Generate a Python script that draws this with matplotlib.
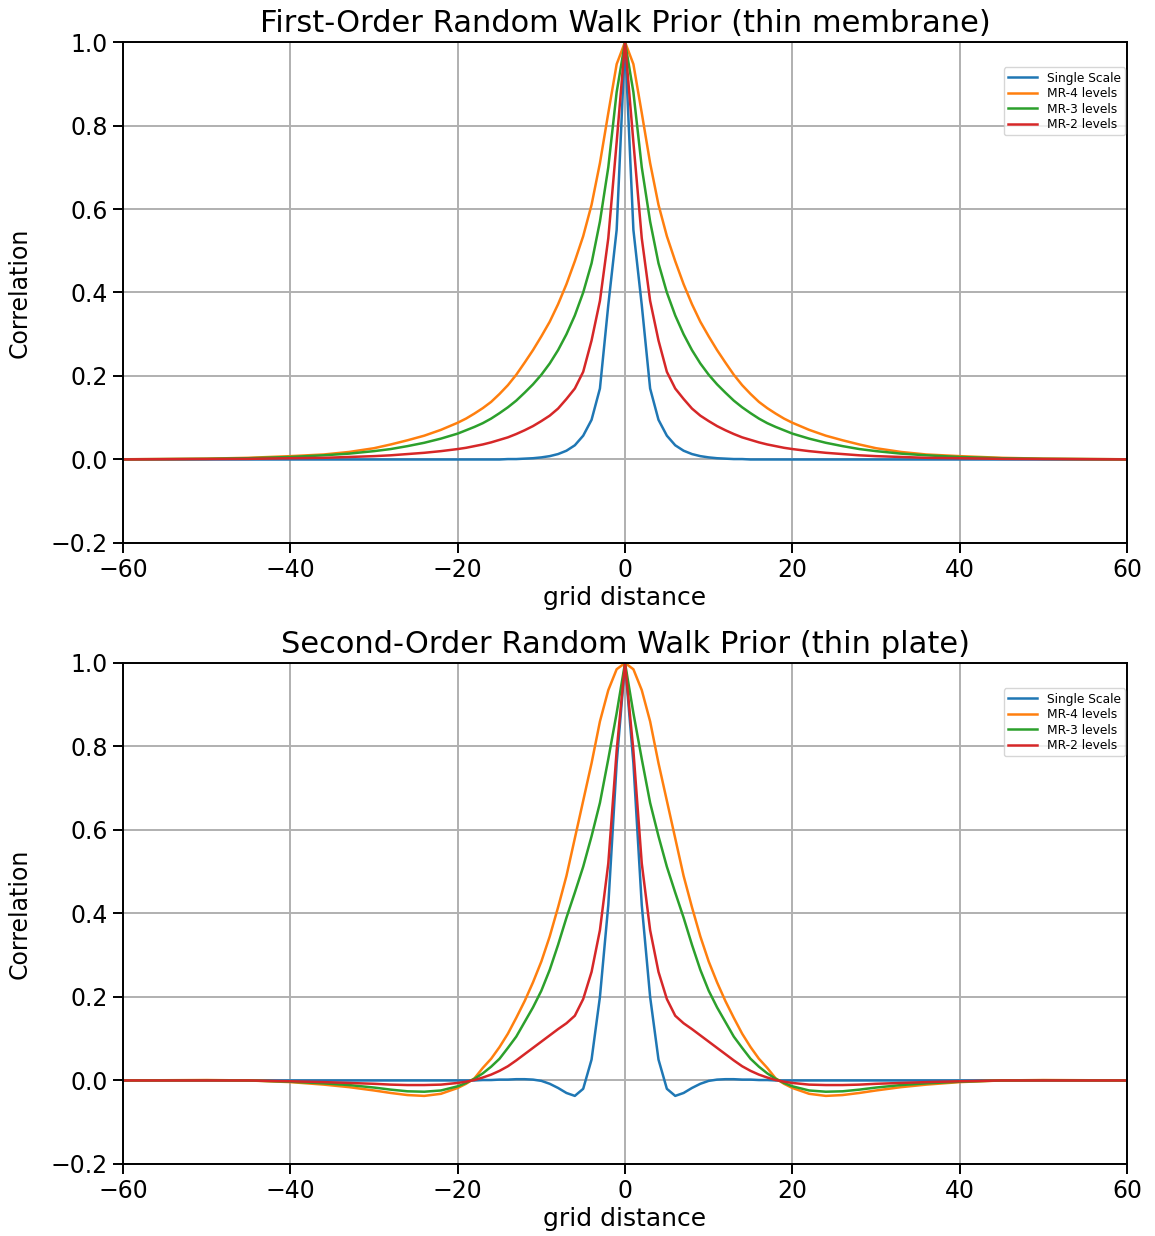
import numpy as np
import matplotlib
matplotlib.use('Agg')
import matplotlib.pyplot as plt

# ---- 读图得到的相关系数（右半边，左右对称） ----
dist = [0, 1, 2, 3, 4, 5, 6, 7, 8, 9, 10, 11, 12, 13, 14, 15, 16, 17, 18, 19, 20,
        22, 24, 26, 28, 30, 33, 36, 40, 45, 50, 60]

# 一阶随机游走
rw1_single = [1.0, 0.55, 0.37, 0.17, 0.095, 0.057, 0.034, 0.021, 0.013, 0.008, 0.005, 0.003,
              0.002, 0.001, 0.001, 0.0, 0.0, 0.0, 0.0, 0.0, 0.0,
              0.0, 0.0, 0.0, 0.0, 0.0, 0.0, 0.0, 0.0, 0.0, 0.0, 0.0]
rw1_mr4 = [1.0, 0.947, 0.83, 0.71, 0.61, 0.535, 0.475, 0.42, 0.372, 0.33, 0.295, 0.262,
           0.232, 0.203, 0.178, 0.157, 0.138, 0.123, 0.11, 0.098, 0.088,
           0.071, 0.057, 0.046, 0.036, 0.027, 0.018, 0.012, 0.008, 0.004, 0.002, 0.0005]
rw1_mr3 = [1.0, 0.88, 0.70, 0.57, 0.47, 0.40, 0.345, 0.30, 0.262, 0.23, 0.203, 0.18,
           0.16, 0.141, 0.125, 0.111, 0.098, 0.087, 0.078, 0.07, 0.062,
           0.05, 0.04, 0.032, 0.025, 0.02, 0.014, 0.01, 0.006, 0.003, 0.0015, 0.0004]
rw1_mr2 = [1.0, 0.76, 0.53, 0.38, 0.285, 0.21, 0.17, 0.145, 0.122, 0.105, 0.092, 0.08,
           0.07, 0.061, 0.053, 0.047, 0.041, 0.036, 0.032, 0.028, 0.025,
           0.02, 0.016, 0.013, 0.01, 0.008, 0.006, 0.004, 0.003, 0.0015, 0.001, 0.0002]

# 二阶随机游走
rw2_single = [1.0, 0.76, 0.42, 0.20, 0.05, -0.02, -0.037, -0.03, -0.018, -0.008, -0.001, 0.002,
              0.003, 0.003, 0.002, 0.002, 0.001, 0.001, 0.0, 0.0, 0.0,
              0.0, 0.0, 0.0, 0.0, 0.0, 0.0, 0.0, 0.0, 0.0, 0.0, 0.0]
rw2_mr4 = [1.0, 0.985, 0.935, 0.86, 0.76, 0.67, 0.58, 0.49, 0.415, 0.345, 0.285, 0.235,
           0.19, 0.15, 0.112, 0.08, 0.052, 0.03, 0.005, -0.008, -0.018,
           -0.032, -0.037, -0.035, -0.03, -0.024, -0.016, -0.01, -0.004, 0.0, 0.001, 0.0]
rw2_mr3 = [1.0, 0.88, 0.77, 0.665, 0.585, 0.512, 0.45, 0.39, 0.325, 0.265, 0.215, 0.175,
           0.14, 0.105, 0.078, 0.052, 0.033, 0.017, 0.004, -0.006, -0.014,
           -0.024, -0.027, -0.026, -0.022, -0.017, -0.011, -0.007, -0.003, 0.0, 0.0005, 0.0]
rw2_mr2 = [1.0, 0.79, 0.52, 0.36, 0.26, 0.195, 0.155, 0.137, 0.123, 0.108, 0.093, 0.078,
           0.063, 0.048, 0.034, 0.023, 0.014, 0.007, 0.001, -0.003, -0.006,
           -0.01, -0.011, -0.011, -0.01, -0.008, -0.006, -0.004, -0.002, 0.0, 0.0, 0.0]

labels = ['Single Scale', 'MR-4 levels', 'MR-3 levels', 'MR-2 levels']
colors = ['#1f77b4', '#ff7f0e', '#2ca02c', '#d62728']


def mirror(d, v):
    d = np.asarray(d, float)
    v = np.asarray(v, float)
    x = np.concatenate([-d[:0:-1], d])
    y = np.concatenate([v[:0:-1], v])
    return x, y


panels = [
    ('First-Order Random Walk Prior (thin membrane)', [rw1_single, rw1_mr4, rw1_mr3, rw1_mr2]),
    ('Second-Order Random Walk Prior (thin plate)', [rw2_single, rw2_mr4, rw2_mr3, rw2_mr2]),
]

fig = plt.figure(figsize=(11.55, 12.36), dpi=100)
axes = [fig.add_axes([0.1065, 0.5607, 0.8693, 0.4053]),
        fig.add_axes([0.1065, 0.0583, 0.8693, 0.4053])]

for ax, (title, series) in zip(axes, panels):
    for vals, lab, c in zip(series, labels, colors):
        x, y = mirror(dist, vals)
        ax.plot(x, y, color=c, lw=1.8, label=lab)
    ax.set_xlim(-60, 60)
    ax.set_ylim(-0.2, 1.0)
    ax.set_xticks([-60, -40, -20, 0, 20, 40, 60])
    ax.set_yticks([-0.2, 0.0, 0.2, 0.4, 0.6, 0.8, 1.0])
    ax.grid(True, color='#b0b0b0', lw=1.4)
    ax.set_title(title, fontsize=22, pad=7)
    ax.set_xlabel('grid distance', fontsize=18, labelpad=3)
    ax.set_ylabel('Correlation', fontsize=17, labelpad=14)
    ax.tick_params(labelsize=17, length=7, width=1.4, pad=4)
    for s in ax.spines.values():
        s.set_linewidth(1.4)
    ax.legend(loc='upper right', fontsize=8.8, bbox_to_anchor=(1.0, 0.953),
              borderaxespad=0.15, handlelength=2.4, labelspacing=0.2,
              borderpad=0.35)

fig.savefig('out.png', dpi=100)
